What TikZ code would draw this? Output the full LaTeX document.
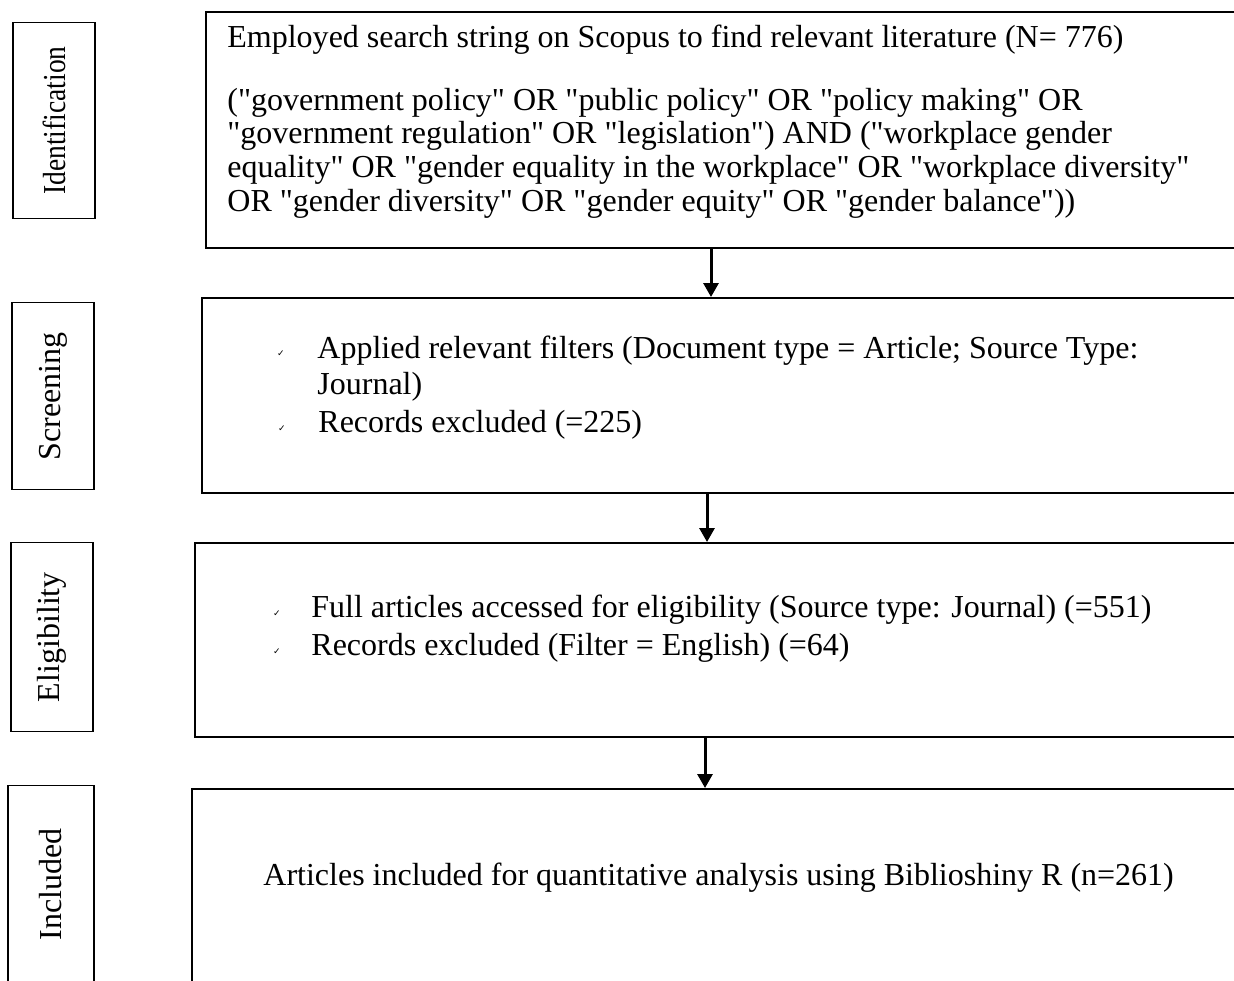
\documentclass[tikz,border=0pt]{standalone}
\usepackage{fontspec}
\setmainfont{Liberation Serif}
\newfontfamily\symfont{DejaVu Sans}
\usepackage{graphicx}
\usetikzlibrary{positioning,arrows.meta}

% straight double quote
\newcommand{\dq}{\textquotedbl}

\tikzset{
    stagebox/.style={draw, line width=0.6pt, minimum width=41pt, anchor=north},
    stagelabel/.style={rotate=90, inner sep=0pt, font=\fontsize{16}{18}\selectfont},
    mainbox/.style={draw, line width=1.2pt, minimum width=560pt, anchor=north west},
    txt/.style={anchor=base west, inner sep=0pt, font=\fontsize{16}{18}\selectfont},
    tick/.style={anchor=base, inner sep=0pt, font=\symfont\fontsize{4.5}{5}\selectfont},
    arr/.style={line width=1.5pt, -{Triangle[width=7.5pt,length=7pt]}}
}

\begin{document}
\begin{tikzpicture}[x=0.5pt, y=-0.5pt]
    \useasboundingbox (0,0) rectangle (1234,980);
    \clip (0,0) rectangle (1234,980);

    % Draw the stage boxes on the left
    \node[stagebox, minimum height=98pt] (idside) at (54,22) {};
    \node[stagebox, minimum height=93.5pt] (scrside) at (53,302) {};
    \node[stagebox, minimum height=94.5pt] (eligside) at (52,542) {};
    \node[stagebox, minimum height=99pt, minimum width=43pt] (inclside) at (51,785) {};

    \node[stagelabel] (idlabel) at (idside.center) {\scalebox{0.86}[1]{Identification}};
    \node[stagelabel] (scrlabel) at (scrside.center) {Screening};
    \node[stagelabel] (eliglabel) at (eligside.center) {Eligibility};
    \node[stagelabel] (incllabel) at (inclside.center) {Included};

    % Draw the main boxes
    \node[mainbox, minimum height=118pt] (idbox) at (205,11) {};
    \node[mainbox, minimum height=97.5pt] (scrbox) at (201,297) {};
    \node[mainbox, minimum height=97pt] (eligbox) at (194,542) {};
    \node[mainbox, minimum height=98pt] (inclbox) at (191,788) {};

    % Identification text
    \node[txt] (search) at (227,47) {Employed search string on Scopus to find relevant literature (N= 776)};
    \node[txt] (query1) at (227,110) {(\dq government policy\dq{} OR \dq public policy\dq{} OR \dq policy making\dq{} OR};
    \node[txt] (query2) at (227,143.5) {\dq government regulation\dq{} OR \dq legislation\dq) AND (\dq workplace gender};
    \node[txt] (query3) at (227,177) {equality\dq{} OR \dq gender equality in the workplace\dq{} OR \dq workplace diversity\dq};
    \node[txt] (query4) at (227,211) {OR \dq gender diversity\dq{} OR \dq gender equity\dq{} OR \dq gender balance\dq))};

    % Screening text
    \node[tick] (scrtick1) at (281,356) {✓};
    \node[txt] (filters) at (317,358) {Applied relevant filters (Document type = Article; Source Type:};
    \node[txt] (filters2) at (317,394) {Journal)};
    \node[tick] (scrtick2) at (282,431) {✓};
    \node[txt] (excl1) at (318,432) {Records excluded (=225)};

    % Eligibility text
    \node[tick] (eligtick1) at (277,616) {✓};
    \node[txt] (fullart) at (311,617) {Full articles accessed for eligibility (Source type: Journal) (=551)};
    \node[tick] (eligtick2) at (277,654) {✓};
    \node[txt] (excl2) at (311,655) {Records excluded (Filter = English) (=64)};

    % Included text
    \node[txt] (incl) at (263,885) {Articles included for quantitative analysis using Biblioshiny R (n=261)};

    % Draw arrows between the boxes
    \coordinate (a1) at ([xshift=253pt]idbox.south west);
    \coordinate (a2) at ([xshift=253pt]scrbox.south west);
    \coordinate (a3) at ([xshift=255.5pt]eligbox.south west);
    \draw[arr] (a1) -- (a1 |- scrbox.north);
    \draw[arr] (a2) -- (a2 |- eligbox.north);
    \draw[arr] (a3) -- (a3 |- inclbox.north);
\end{tikzpicture}
\end{document}
